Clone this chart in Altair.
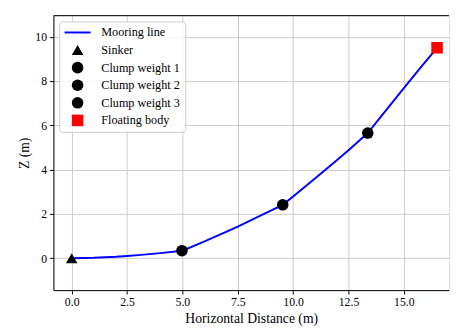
import altair as alt
import pandas as pd

# Mooring line profile
line_x = [0.0, 1.0, 2.0, 2.5, 3.0, 4.0, 5.0, 6.0, 7.0, 7.5, 8.5, 9.53, 10.0, 11.0, 12.0, 12.5, 13.37, 14.2, 15.0, 15.8, 16.5]
line_z = [0.0, 0.02, 0.065, 0.1, 0.14, 0.23, 0.34, 0.76, 1.2, 1.43, 1.91, 2.41, 2.79, 3.61, 4.45, 4.875, 5.65, 6.68, 7.68, 8.66, 9.5]

# Markers
marker_names = ["Sinker", "Clump weight 1", "Clump weight 2", "Clump weight 3", "Floating body"]
marker_x = [0.0, 4.98, 9.53, 13.37, 16.5]
marker_z = [0.0, 0.34, 2.41, 5.65, 9.5]

legend_names = ["Mooring line"] + marker_names
legend_colors = ["#0000ff", "black", "black", "black", "black", "#ff0000"]
line_symbol = "M-2.25,-0.17L2.25,-0.17L2.25,0.17L-2.25,0.17Z"
legend_shapes = [line_symbol, "triangle-up", "circle", "circle", "circle", "square"]

x_ticks = [0, 2.5, 5, 7.5, 10, 12.5, 15]
z_ticks = [0, 2, 4, 6, 8, 10]
x_domain = [-0.825, 17.04]
z_domain = [-1.44, 10.95]

FONT = "Liberation Serif"

line_df = pd.DataFrame({"x": line_x, "z": line_z})
marker_df = pd.DataFrame({"x": marker_x, "z": marker_z, "name": marker_names})
top_df = pd.DataFrame({"z": [z_domain[1]]})

x_scale = alt.Scale(domain=x_domain, nice=False, zero=False)
z_scale = alt.Scale(domain=z_domain, nice=False, zero=False)

axis_style = dict(grid=True, gridColor="#cccccc", gridWidth=1,
                  domainColor="black", domainWidth=1, tickColor="black", tickSize=4,
                  labelFont=FONT, labelFontSize=12, labelColor="black", labelPadding=3,
                  titleFont=FONT, titleFontSize=14, titleFontWeight="normal", titleColor="black",
                  titlePadding=4)

line = alt.Chart(line_df).mark_line(color="#0000ff", strokeWidth=2).encode(
    x=alt.X("x:Q", scale=x_scale,
            axis=alt.Axis(title="Horizontal Distance (m)", values=x_ticks, format=".1f", **axis_style)),
    y=alt.Y("z:Q", scale=z_scale,
            axis=alt.Axis(title="Z (m)", values=z_ticks, format="d", **axis_style)),
)

top = alt.Chart(top_df).mark_rule(color="black", strokeWidth=1).encode(
    y=alt.Y("z:Q", scale=z_scale),
)

legend = alt.Legend(title=None, orient="top-left", offset=6,
                    symbolSize=140, symbolStrokeWidth=0,
                    symbolOffset=7.5, labelOffset=18,
                    labelFont=FONT, labelFontSize=12.5, labelColor="black",
                    fillColor="rgba(255,255,255,0.85)", strokeColor="#cccccc",
                    cornerRadius=3, padding=5, rowPadding=5)

points = alt.Chart(marker_df).mark_point(filled=True, opacity=1, size=140).encode(
    x=alt.X("x:Q", scale=x_scale),
    y=alt.Y("z:Q", scale=z_scale),
    color=alt.Color("name:N", scale=alt.Scale(domain=legend_names, range=legend_colors), legend=legend),
    shape=alt.Shape("name:N", scale=alt.Scale(domain=legend_names, range=legend_shapes), legend=legend),
)

chart = alt.layer(line, top, points).properties(
    width=405, height=281,
    padding={"left": 9.5, "top": 3, "right": 0, "bottom": 0},
).configure_view(stroke=None).configure(background="white").configure_axis(**axis_style)

chart.save("out.html", embed_options={"renderer": "svg", "actions": False})
